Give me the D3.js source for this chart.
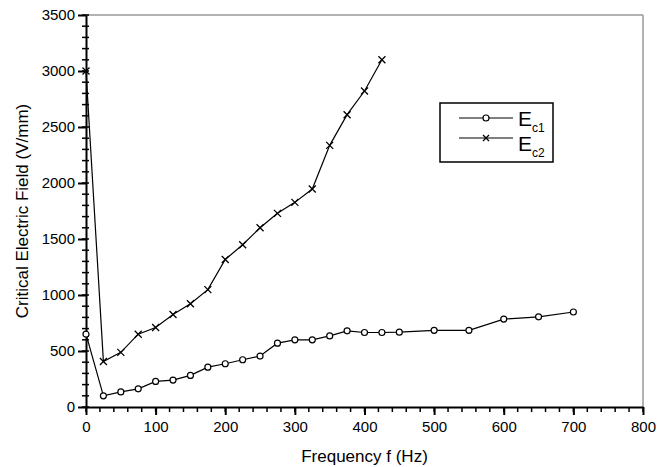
<!DOCTYPE html>
<html>
<head>
<meta charset="utf-8">
<script src="https://d3js.org/d3.v7.min.js"></script>
<style>
  body { margin: 0; background: #fff; }
  text { font-family: "Liberation Sans", Arial, sans-serif; fill: #000; }
</style>
</head>
<body>
<div id="chart"></div>
<script>
// frequencies (Hz) and critical fields (V/mm)
const freqEc1 = [0, 25, 50, 75, 100, 125, 150, 175, 200, 225, 250, 275, 300, 325, 350, 375, 400, 425, 450, 500, 550, 600, 650, 700];
const valEc1  = [650, 100, 135, 162, 228, 240, 282, 356, 386, 422, 455, 570, 600, 600, 635, 680, 665, 665, 668, 685, 685, 785, 805, 848];
const freqEc2 = [0, 25, 50, 75, 100, 125, 150, 175, 200, 225, 250, 275, 300, 325, 350, 375, 400, 425];
const valEc2  = [3000, 407, 488, 650, 710, 826, 922, 1048, 1317, 1449, 1600, 1729, 1827, 1946, 2336, 2610, 2821, 3101];
const xTicks = [0, 100, 200, 300, 400, 500, 600, 700, 800];
const yTicks = [0, 500, 1000, 1500, 2000, 2500, 3000, 3500];

var margin = {top: 15, right: 22, bottom: 60, left: 86},
    width = 665 - margin.left - margin.right,
    height = 467 - margin.top - margin.bottom;

const svg = d3.select("#chart").append("svg")
    .attr("width", 665)
    .attr("height", 467)
  .append("g")
    .attr("transform", "translate(" + margin.left + "," + margin.top + ")");

var x = d3.scaleLinear().domain([0, 800]).range([0, width]);
var y = d3.scaleLinear().domain([0, 3500]).range([height, 0]);

// frame on top and right (grey)
svg.append("line").attr("x1", 0).attr("x2", width).attr("y1", 0).attr("y2", 0)
    .attr("stroke", "#999").attr("stroke-width", 1.5);
svg.append("line").attr("x1", width).attr("x2", width).attr("y1", 0).attr("y2", height)
    .attr("stroke", "#999").attr("stroke-width", 1.5);

// minor ticks
svg.append("g")
    .attr("transform", "translate(0," + height + ")")
    .selectAll("line").data(d3.range(0, 801, 20)).enter().append("line")
    .attr("x1", d => x(d)).attr("x2", d => x(d))
    .attr("y1", 0).attr("y2", 5)
    .attr("stroke", "#000").attr("stroke-width", 1.5);
svg.append("g")
    .selectAll("line").data(d3.range(0, 3501, 100)).enter().append("line")
    .attr("x1", -4).attr("x2", 3)
    .attr("y1", d => y(d)).attr("y2", d => y(d))
    .attr("stroke", "#000").attr("stroke-width", 1.5);

// axes
var xAxis = svg.append("g")
    .attr("transform", "translate(0," + height + ")")
    .call(d3.axisBottom(x).tickValues(xTicks).tickFormat(d3.format("d")).tickSize(8).tickPadding(6).tickSizeOuter(0));
var yAxis = svg.append("g")
    .call(d3.axisLeft(y).tickValues(yTicks).tickFormat(d3.format("d")).tickSize(8).tickPadding(3).tickSizeOuter(0));

[xAxis, yAxis].forEach(function(a) {
    a.select(".domain").attr("stroke", "#000").attr("stroke-width", 2);
    a.selectAll(".tick line").attr("stroke", "#000").attr("stroke-width", 2);
    a.selectAll("text").attr("font-size", 15).attr("font-family", "Liberation Sans, Arial, sans-serif");
});

// axis titles
svg.append("text")
    .attr("x", width / 2).attr("y", height + 55)
    .attr("text-anchor", "middle").attr("font-size", 17)
    .text("Frequency f (Hz)");
svg.append("text")
    .attr("transform", "translate(-58," + (height / 2) + ")rotate(-90)")
    .attr("text-anchor", "middle").attr("font-size", 17)
    .text("Critical Electric Field (V/mm)");

var line = d3.line().x(d => x(d[0])).y(d => y(d[1]));
var ec1 = d3.zip(freqEc1, valEc1);
var ec2 = d3.zip(freqEc2, valEc2);

svg.append("path").datum(ec2).attr("d", line)
    .attr("fill", "none").attr("stroke", "#000").attr("stroke-width", 1.2);
svg.append("path").datum(ec1).attr("d", line)
    .attr("fill", "none").attr("stroke", "#000").attr("stroke-width", 1.2);

function cross(sel, s) {
    sel.append("path")
        .attr("d", "M" + (-s) + "," + (-s) + "L" + s + "," + s + "M" + (-s) + "," + s + "L" + s + "," + (-s))
        .attr("stroke", "#000").attr("stroke-width", 1.3).attr("fill", "none");
}

svg.selectAll(".mk2").data(ec2).enter().append("g")
    .attr("transform", d => "translate(" + x(d[0]) + "," + y(d[1]) + ")")
    .call(cross, 3.5);

svg.selectAll(".mk1").data(ec1).enter().append("circle")
    .attr("cx", d => x(d[0])).attr("cy", d => y(d[1])).attr("r", 3)
    .attr("fill", "#fff").attr("stroke", "#000").attr("stroke-width", 1.2);

// legend
var lg = svg.append("g").attr("transform", "translate(" + (440 - margin.left) + "," + (103 - margin.top) + ")");
lg.append("rect").attr("width", 113).attr("height", 59)
    .attr("fill", "#fff").attr("stroke", "#000").attr("stroke-width", 1.5);

var rows = [{sub: "c1", ly: 15, ty: 23, mark: "circle"}, {sub: "c2", ly: 35, ty: 48, mark: "cross"}];
rows.forEach(function(r) {
    lg.append("line").attr("x1", 19).attr("x2", 73).attr("y1", r.ly).attr("y2", r.ly)
        .attr("stroke", "#000").attr("stroke-width", 1.2);
    if (r.mark === "circle") {
        lg.append("circle").attr("cx", 46).attr("cy", r.ly).attr("r", 3)
            .attr("fill", "#fff").attr("stroke", "#000").attr("stroke-width", 1.2);
    } else {
        lg.append("g").attr("transform", "translate(46," + r.ly + ")").call(cross, 3);
    }
    var t = lg.append("text").attr("x", 78).attr("y", r.ty).attr("font-size", 21);
    t.append("tspan").text("E");
    t.append("tspan").attr("font-size", 12).attr("dy", 6).text(r.sub);
});
</script>
</body>
</html>
